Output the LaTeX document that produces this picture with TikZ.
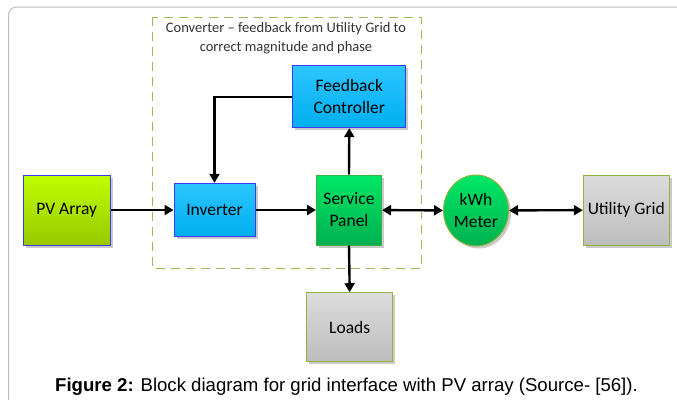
\documentclass[tikz,border=0pt]{standalone}
\usepackage{fontspec}
\setmainfont{Carlito}
\newfontfamily\capfont{Liberation Sans}
\usetikzlibrary{arrows.meta,shadows,shapes.geometric}
\definecolor{bordblue}{HTML}{3A3AF0}
\definecolor{olive}{HTML}{8DB43C}
\definecolor{dashol}{HTML}{9BBB59}
\definecolor{frame}{HTML}{BEBEBE}
\definecolor{pvtop}{HTML}{BFFF00}
\definecolor{pvbot}{HTML}{99C800}
\definecolor{bltop}{HTML}{2CC6FF}
\definecolor{blbot}{HTML}{00AEEF}
\definecolor{grbord}{HTML}{3CB043}
\definecolor{grtop}{HTML}{00E865}
\definecolor{grbot}{HTML}{00B050}
\definecolor{gytop}{HTML}{DCDCDC}
\definecolor{gybot}{HTML}{BDBDBD}
\tikzset{
  blk/.style={draw, line width=1pt, align=center, inner sep=0pt,
    font=\fontsize{17.5}{22}\selectfont,
    drop shadow={shadow xshift=2.5pt, shadow yshift=-2.5pt, opacity=.35, fill=black!60}},
  pvbox/.style={blk, draw=bordblue, top color=pvtop, bottom color=pvbot},
  bluebox/.style={blk, draw=bordblue, top color=bltop, bottom color=blbot},
  greenbox/.style={blk, draw=grbord, top color=grtop, bottom color=grbot},
  graybox/.style={blk, draw=olive, top color=gytop, bottom color=gybot},
  conn/.style={line width=2.4pt, -{Triangle[length=9pt,width=10pt]}},
  dconn/.style={line width=2.4pt, {Triangle[length=9pt,width=10pt]}-{Triangle[length=9pt,width=10pt]}},
}
\begin{document}
\begin{tikzpicture}[x=1pt,y=-1pt]
\useasboundingbox (0,0) rectangle (677,399);
\begin{scope}
\clip (0,0) rectangle (677,399);
\draw[frame, line width=1pt, rounded corners=8pt] (8.5,7) rectangle (700,420);
\end{scope}
% dashed converter box
\draw[dashol, line width=1pt, dash pattern=on 9pt off 6pt] (152.4,17.3) rectangle (421.8,268.3);
\node[align=center, font=\fontsize{14.5}{19}\selectfont, text=black!80, inner sep=0pt] (title) at (286,38.5)
  {Converter -- feedback from Utility Grid to\\correct magnitude and phase};
% blocks
\node[pvbox, minimum width=86.7pt, minimum height=70pt] (pv) at (66.7,210) {PV Array};
\node[bluebox, minimum width=81pt, minimum height=53.4pt] (inv) at (214.5,210) {Inverter};
\node[greenbox, minimum width=65pt, minimum height=70pt] (sp) at (349,210) {Service\\Panel};
\node[bluebox, minimum width=113pt, minimum height=61.7pt] (fb) at (349.3,96.8) {Feedback\\Controller};
\node[greenbox, ellipse, draw=olive, minimum width=65pt, minimum height=71pt] (kwh) at (476,210.5) {kWh\\Meter};
\node[graybox, minimum width=86pt, minimum height=70pt] (ug) at (626.3,210) {Utility Grid};
\node[graybox, minimum width=85.5pt, minimum height=69pt] (ld) at (349.7,327.2) {Loads};
% connectors
\draw[conn] (pv) -- (inv);
\draw[conn] (inv) -- (sp);
\draw[conn] (sp.north) -- (fb.south);
\draw[conn] (fb.west) -| (inv.north);
\draw[conn] (sp.south) -- (ld.north);
\draw[dconn] (sp) -- (kwh);
\draw[dconn] (kwh) -- (ug);
% caption
\node[font=\capfont\fontsize{18.6}{20}\selectfont, inner sep=0pt] (cap) at (346.5,386.5)
  {\textbf{Figure 2:} Block diagram for grid interface with PV array (Source- [56]).};
\end{tikzpicture}
\end{document}
